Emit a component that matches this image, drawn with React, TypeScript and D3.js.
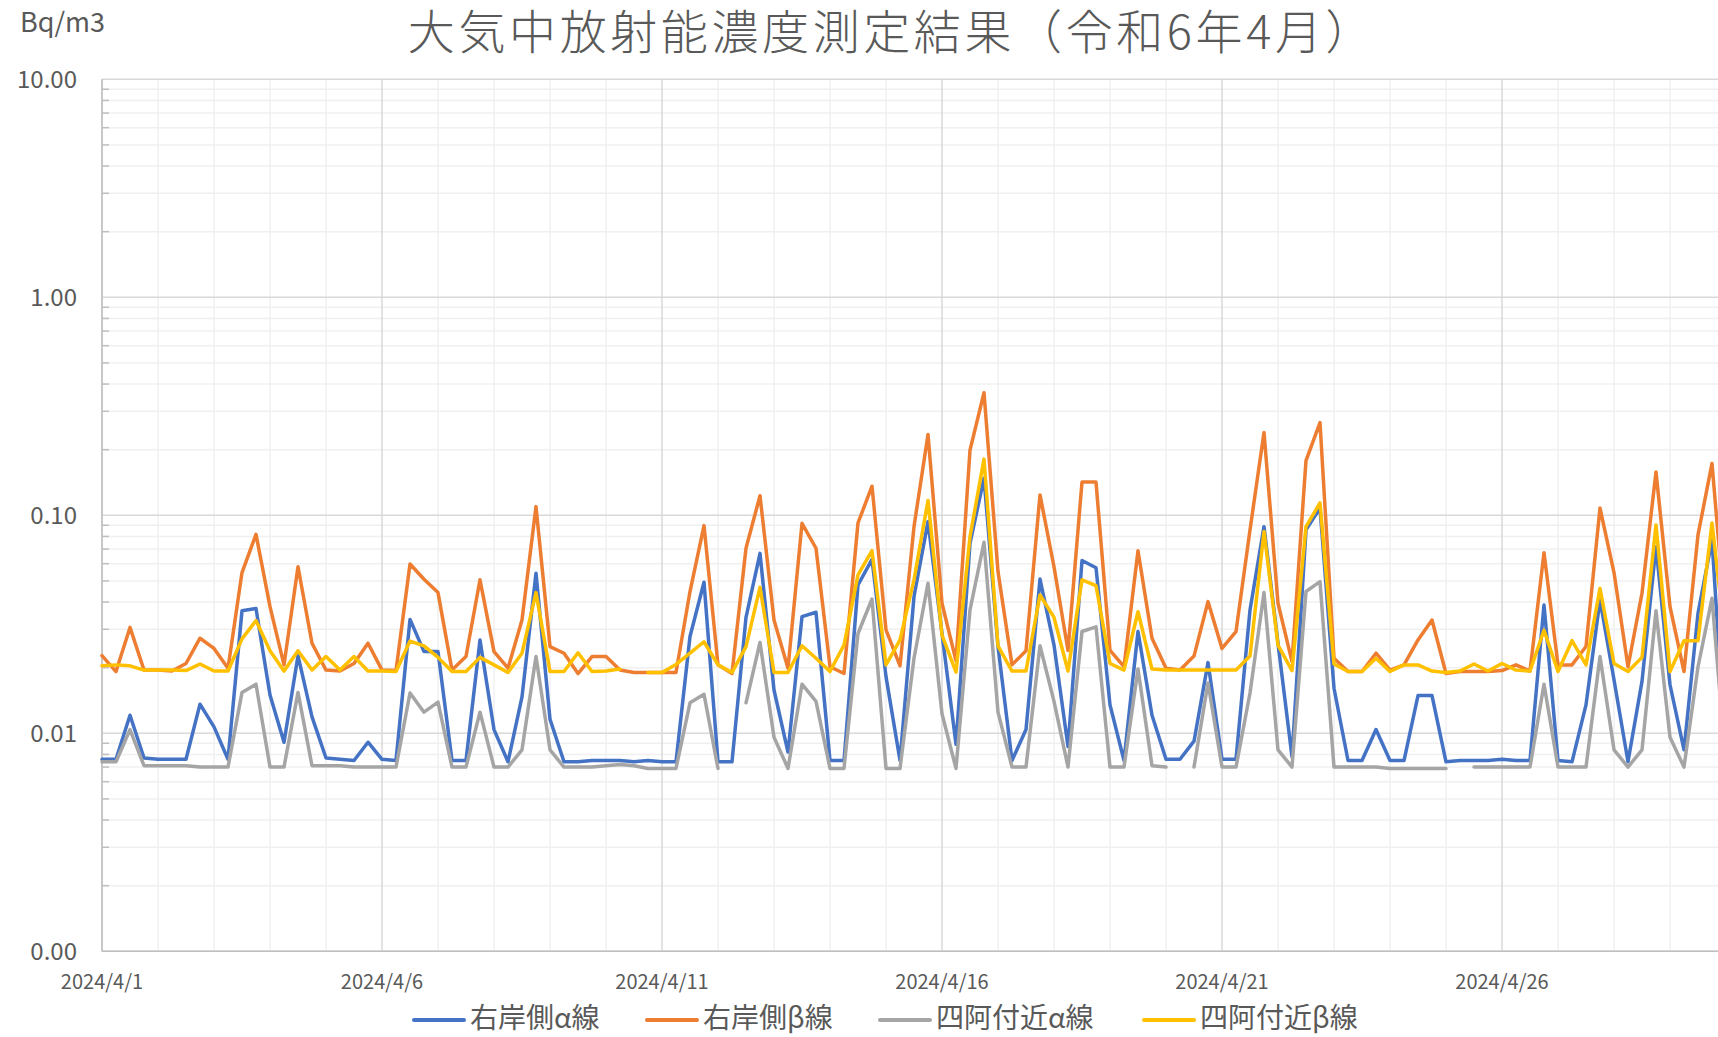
import React from 'react'
import * as d3 from 'd3';

// 6-hourly readings, 2024/4/1 00:00 onward (Bq/m3)
const migishiAlpha = [
  0.0076, 0.0076, 0.0121, 0.0077, 0.0076, 0.0076, 0.0076, 0.0136, 0.0107, 0.0076,
  0.0365, 0.0374, 0.015, 0.0091, 0.0227, 0.0119, 0.0077, 0.0076, 0.0075, 0.0091,
  0.0076, 0.0075, 0.0333, 0.0237, 0.0237, 0.0075, 0.0075, 0.0268, 0.0104, 0.0074,
  0.0147, 0.0542, 0.0116, 0.0074, 0.0074, 0.0075, 0.0075, 0.0075, 0.0074, 0.0075,
  0.0074, 0.0074, 0.0278, 0.0493, 0.0074, 0.0074, 0.034, 0.0669, 0.0158, 0.0082,
  0.0343, 0.0359, 0.0075, 0.0075, 0.0479, 0.0628, 0.0182, 0.0075, 0.0424, 0.0935,
  0.0287, 0.0089, 0.0744, 0.148, 0.025, 0.0075, 0.0104, 0.051, 0.0254, 0.0087,
  0.062, 0.0575, 0.0135, 0.0075, 0.0293, 0.0121, 0.0076, 0.0076, 0.0092, 0.0211,
  0.0076, 0.0076, 0.0368, 0.0887, 0.0259, 0.0078, 0.0857, 0.108, 0.0161, 0.0075,
  0.0075, 0.0104, 0.0075, 0.0075, 0.0149, 0.0149, 0.0074, 0.0075, 0.0075, 0.0075,
  0.0076, 0.0075, 0.0075, 0.0388, 0.0075, 0.0074, 0.0135, 0.0409, 0.0176, 0.0074,
  0.0173, 0.0718, 0.0167, 0.0084, 0.0355, 0.077, 0.0075,
];

const migishiBeta = [
  0.0227, 0.0192, 0.0306, 0.0195, 0.0195, 0.0193, 0.0209, 0.0273, 0.0245, 0.0199,
  0.0546, 0.0818, 0.0381, 0.0206, 0.0581, 0.0259, 0.0195, 0.0193, 0.0209, 0.0259,
  0.0195, 0.0194, 0.0598, 0.0509, 0.0442, 0.0195, 0.0225, 0.0506, 0.0237, 0.0199,
  0.0331, 0.1096, 0.025, 0.0233, 0.0188, 0.0225, 0.0225, 0.0195, 0.019, 0.019,
  0.019, 0.019, 0.0447, 0.0897, 0.0206, 0.0188, 0.0706, 0.123, 0.0331, 0.0199,
  0.0919, 0.0706, 0.0202, 0.0188, 0.0922, 0.136, 0.0298, 0.0204, 0.0887, 0.235,
  0.0395, 0.0215, 0.199, 0.365, 0.0552, 0.0206, 0.0239, 0.124, 0.0581, 0.024,
  0.142, 0.142, 0.024, 0.0202, 0.0688, 0.0273, 0.0199, 0.0195, 0.0226, 0.0402,
  0.0245, 0.0293, 0.0857, 0.24, 0.0395, 0.0213, 0.178, 0.266, 0.0221, 0.0192,
  0.0192, 0.0233, 0.0195, 0.0206, 0.0268, 0.0331, 0.0188, 0.0192, 0.0192, 0.0192,
  0.0194, 0.0206, 0.0193, 0.0674, 0.0206, 0.0206, 0.025, 0.108, 0.0546, 0.0202,
  0.0439, 0.158, 0.0381, 0.0192, 0.0813, 0.173, 0.03,
];

const azumayaAlpha = [
  0.0074, 0.0074, 0.0104, 0.0071, 0.0071, 0.0071, 0.0071, 0.007, 0.007, 0.007,
  0.0154, 0.0168, 0.007, 0.007, 0.0154, 0.0071, 0.0071, 0.0071, 0.007, 0.007,
  0.007, 0.007, 0.0153, 0.0125, 0.0139, 0.007, 0.007, 0.0125, 0.007, 0.007,
  0.0084, 0.0225, 0.0084, 0.007, 0.007, 0.007, 0.0071, 0.0072, 0.0071, 0.0069,
  0.0069, 0.0069, 0.0138, 0.0151, 0.0069, null, 0.0138, 0.0261, 0.0096, 0.0069,
  0.0168, 0.014, 0.0069, 0.0069, 0.0287, 0.0413, 0.0069, 0.0069, 0.0221, 0.0488,
  0.0123, 0.0069, 0.0368, 0.0752, 0.0125, 0.007, 0.007, 0.0252, 0.014, 0.007,
  0.0293, 0.0308, 0.007, 0.007, 0.0197, 0.0071, 0.007, null, 0.007, 0.017,
  0.007, 0.007, 0.0153, 0.0442, 0.0084, 0.007, 0.0447, 0.0496, 0.007, 0.007,
  0.007, 0.007, 0.0069, 0.0069, 0.0069, 0.0069, 0.0069, null, 0.007, 0.007,
  0.007, 0.007, 0.007, 0.0168, 0.007, 0.007, 0.007, 0.0225, 0.0084, 0.007,
  0.0084, 0.0365, 0.0096, 0.007, 0.0202, 0.0416, 0.007,
];

const azumayaBeta = [
  0.0204, 0.0206, 0.0204, 0.0195, 0.0195, 0.0195, 0.0194, 0.0208, 0.0193, 0.0193,
  0.0271, 0.0329, 0.0239, 0.0193, 0.0239, 0.0195, 0.0225, 0.0195, 0.0225, 0.0193,
  0.0193, 0.0192, 0.0265, 0.0252, 0.0223, 0.0192, 0.0192, 0.0223, 0.0206, 0.019,
  0.0233, 0.0442, 0.0192, 0.0192, 0.0234, 0.0192, 0.0193, 0.0197, null, 0.019,
  0.019, 0.0207, 0.0233, 0.0263, 0.0206, 0.019, 0.025, 0.0467, 0.019, 0.019,
  0.0252, 0.0221, 0.0192, 0.0254, 0.0533, 0.0688, 0.0206, 0.0268, 0.0506, 0.117,
  0.0282, 0.0191, 0.0798, 0.181, 0.0252, 0.0193, 0.0193, 0.0431, 0.034, 0.0193,
  0.0506, 0.0476, 0.0209, 0.0195, 0.0361, 0.0197, 0.0195, 0.0195, 0.0195, 0.0195,
  0.0195, 0.0195, 0.0226, 0.0842, 0.0254, 0.0194, 0.0887, 0.114, 0.0208, 0.0192,
  0.0192, 0.0221, 0.0192, 0.0206, 0.0206, 0.0193, 0.019, 0.0193, 0.0208, 0.0193,
  0.0209, 0.0195, 0.0193, 0.0297, 0.0192, 0.0266, 0.0206, 0.0462, 0.0209, 0.0192,
  0.0223, 0.0903, 0.0192, 0.0266, 0.0266, 0.0922, 0.025,
];

const seriesNames = ['右岸側α線', '右岸側β線', '四阿付近α線', '四阿付近β線'];
const seriesColors = ['#4472C4', '#ED7D31', '#A5A5A5', '#FFC000'];
const yTicks = [0.001, 0.01, 0.1, 1, 10];
const xLabelDays = [1, 6, 11, 16, 21, 26];

const W = 1718;
const H = 1037;
const FONT = "'Noto Sans CJK JP', 'Noto Sans', sans-serif";
const TXT = '#595959';

const timeOf = (i: number) => new Date(2024, 3, 1 + Math.floor(i / 4), (i % 4) * 6);

const App = () => {
  const x = d3.scaleTime()
    .domain([new Date(2024, 3, 1), new Date(2024, 4, 1)])
    .range([102, 1782]);

  const y = d3.scaleLog()
    .domain([0.001, 10])
    .range([951.3, 79.3]);

  const allSeries = [migishiAlpha, migishiBeta, azumayaAlpha, azumayaBeta];

  const line = d3.line<number | null>()
    .defined(d => d != null)
    .x((_, i) => x(timeOf(i)))
    .y(d => y(d as number));

  const minorY: number[] = [];
  for (let k = -3; k < 1; k++) {
    for (let m = 2; m <= 9; m++) minorY.push(m * Math.pow(10, k));
  }
  const days = d3.timeDay.range(new Date(2024, 3, 1), new Date(2024, 4, 2));
  const fmt = d3.format('.2f');
  const dateFmt = (d: Date) => `${d.getFullYear()}/${d.getMonth() + 1}/${d.getDate()}`;
  const legendX = [414, 647, 880, 1144];

  return (
    <div style={{ position: 'absolute', left: 0, top: 0, width: W, height: H, overflow: 'hidden', background: '#fff' }}>
      <svg width={W} height={H} style={{ display: 'block' }} fontFamily={FONT}>
        <rect width={W} height={H} fill='#fff' />

        {/* minor grid */}
        <g stroke='#F0F0F0' strokeWidth={1.5}>
          {minorY.map((v, i) => <line key={'my' + i} x1={102} x2={W} y1={y(v)} y2={y(v)} />)}
          {days.filter(d => (d.getDate() - 1) % 5 !== 0).map((d, i) =>
            <line key={'mx' + i} x1={x(d)} x2={x(d)} y1={y(10)} y2={y(0.001)} />)}
        </g>
        {/* major grid */}
        <g stroke='#D9D9D9' strokeWidth={1.5}>
          {yTicks.map(v => <line key={'gy' + v} x1={102} x2={W} y1={y(v)} y2={y(v)} />)}
          {xLabelDays.map(d => {
            const xx = x(new Date(2024, 3, d));
            return <line key={'gx' + d} x1={xx} x2={xx} y1={y(10)} y2={y(0.001)} />
          })}
        </g>
        {/* axes */}
        <g stroke='#BFBFBF' strokeWidth={1.5}>
          <line x1={102} x2={102} y1={y(10)} y2={y(0.001)} />
          <line x1={102} x2={W} y1={y(0.001)} y2={y(0.001)} />
          {minorY.map((v, i) => <line key={'t' + i} x1={102} x2={109} y1={y(v)} y2={y(v)} />)}
        </g>

        {/* series */}
        {allSeries.map((s, k) =>
          <path key={seriesNames[k]} d={line(s) || ''} fill='none' stroke={seriesColors[k]}
            strokeWidth={3.5} strokeLinejoin='round' strokeLinecap='round' />
        )}

        {/* y labels */}
        {yTicks.map(v =>
          <text key={'yl' + v} x={77} y={y(v) - 2} textAnchor='end' dominantBaseline='central'
            fontSize={24} fill={TXT}>{fmt(v)}</text>
        )}
        {/* x labels */}
        {xLabelDays.map(d => {
          const dt = new Date(2024, 3, d);
          return <text key={'xl' + d} x={x(dt)} y={980} textAnchor='middle' dominantBaseline='central'
            fontSize={20} fill={TXT}>{dateFmt(dt)}</text>
        })}

        <text x={20} y={32} fontSize={27} fill={TXT}>Bq/m3</text>
        <text x={892} y={49} textAnchor='middle' fontSize={47} fontWeight={300} letterSpacing={3.6}
          fill={TXT}>大気中放射能濃度測定結果（令和6年4月）</text>

        {/* legend */}
        {seriesNames.map((name, k) =>
          <g key={'lg' + k} transform={`translate(${legendX[k]},1020)`}>
            <line x1={0} x2={50} y1={0} y2={0} stroke={seriesColors[k]} strokeWidth={4} strokeLinecap='round' />
            <text x={56} y={-4} dominantBaseline='central' fontSize={28} fill={TXT}>{name}</text>
          </g>
        )}
      </svg>
    </div>
  )
}

export default App
